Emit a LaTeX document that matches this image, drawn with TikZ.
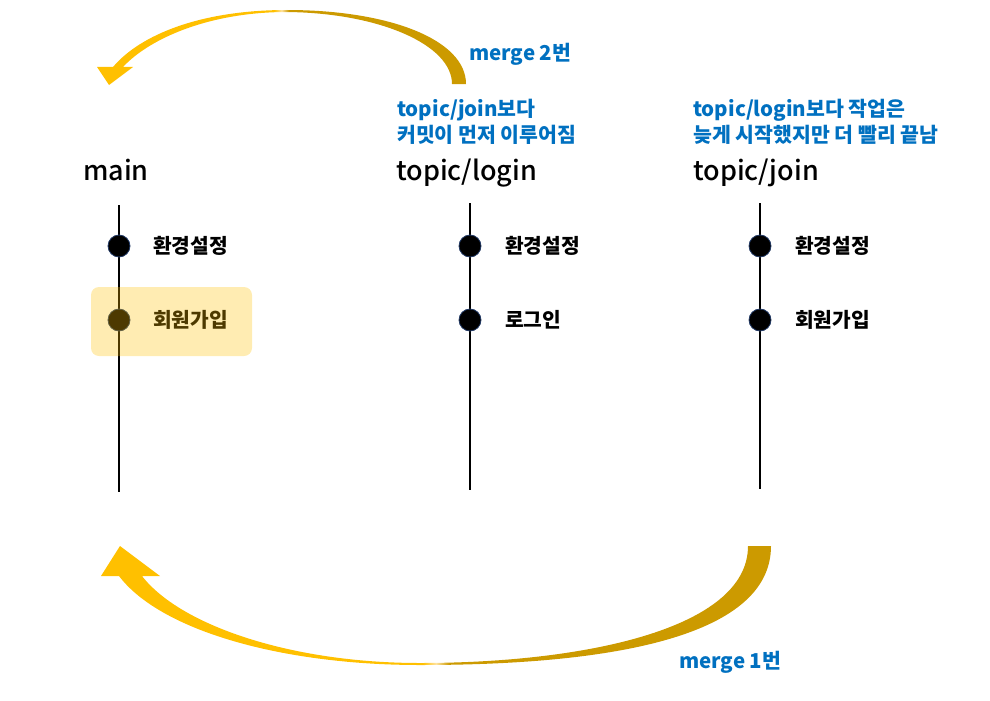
\documentclass[tikz,border=0pt]{standalone}
\usepackage{fontspec}
\setmainfont{Noto Sans CJK KR}
\newfontfamily\hdrfont{Noto Sans CJK KR Medium}
\definecolor{ylw}{HTML}{FFC000}
\definecolor{gld}{HTML}{CC9A00}
\definecolor{ylwl}{HTML}{FFE3A0}
\definecolor{blu}{HTML}{0070C0}
\definecolor{dotedge}{HTML}{203864}
\pgfdeclarehorizontalshading{goldgrad}{100bp}{color(0bp)=(ylw); color(49bp)=(ylw); color(50bp)=(ylwl); color(51bp)=(gld); color(100bp)=(gld)}
\tikzset{
  hdr/.style={inner sep=0pt, anchor=base west, font=\hdrfont\fontsize{27}{32}\selectfont},
  note/.style={inner sep=0pt, anchor=base west, text=blu, font=\fontsize{20.5}{24}\selectfont\bfseries},
  lbl/.style={inner sep=0pt, anchor=west, font=\fontsize{20.3}{24}\selectfont\bfseries},
  commit/.style={circle, fill=black, draw=dotedge, line width=0.8pt, minimum size=22pt, inner sep=0pt},
  branch/.style={line width=2pt, black},
  hl/.style={rounded corners=8pt, fill=ylw, fill opacity=0.3, minimum width=161pt, minimum height=69pt, inner sep=0pt},
  merge/.style={shading=goldgrad}
}
\begin{document}
\begin{tikzpicture}[x=1pt,y=-1pt]
\useasboundingbox (0,0) rectangle (990,701);
% branch lines
\coordinate (mtop) at (119,205); \coordinate (mbot) at (119,492);
\coordinate (ltop) at (470,203); \coordinate (lbot) at (470,490);
\coordinate (jtop) at (760,203); \coordinate (jbot) at (760,489);
\draw[branch] (mtop) -- (mbot);
\draw[branch] (ltop) -- (lbot);
\draw[branch] (jtop) -- (jbot);
% commits
\node[commit] (m1) at (119,246) {};
\node[commit] (m2) at (119,320) {};
\node[commit] (l1) at (470,246) {};
\node[commit] (l2) at (470,320) {};
\node[commit] (j1) at (760,246) {};
\node[commit] (j2) at (760,320) {};
\node[lbl] (m1t) at (153,246) {환경설정};
\node[lbl] (m2t) at (153,320) {회원가입};
\node[lbl] (l1t) at (505,246) {환경설정};
\node[lbl] (l2t) at (505,320) {로그인};
\node[lbl] (j1t) at (795,246) {환경설정};
\node[lbl] (j2t) at (795,320) {회원가입};
% headers
\node[hdr] (mainhd) at (83,180) {main};
\node[hdr] (loginhd) at (396,180) {topic/login};
\node[hdr] (joinhd) at (693,180) {topic/join};
% notes
\node[note] (ln1) at (397,116) {topic/join보다};
\node[note] (ln2) at (397,142) {커밋이 먼저 이루어짐};
\node[note] (jn1) at (693,116) {topic/login보다 작업은};
\node[note] (jn2) at (693,142) {늦게 시작했지만 더 빨리 끝남};
\node[note] (mg2) at (469,60) {merge 2번};
\node[note] (mg1) at (679,668) {merge 1번};
% top merge arrow
\shade[merge] (466,84) .. controls (466,40) and (390,10) .. (287,10)
  .. controls (200,10) and (140,35) .. (113,67)
  -- (97,67) -- (109,85) -- (133,67) -- (123,67)
  .. controls (150,38) and (210,12) .. (287,12)
  .. controls (380,13) and (452,45) .. (452,84) -- cycle;
% bottom merge arrow
\shade[merge] (771,546) .. controls (771,640) and (600,665) .. (420,665)
  .. controls (280,665) and (160,630) .. (119,576)
  -- (101,576) -- (120,546) -- (160,576) -- (142,576)
  .. controls (180,625) and (290,663) .. (420,663)
  .. controls (580,663) and (748,630) .. (748,546) -- cycle;
% highlight
\node[hl] (hlbox) at (171.5,321.5) {};
\end{tikzpicture}
\end{document}
